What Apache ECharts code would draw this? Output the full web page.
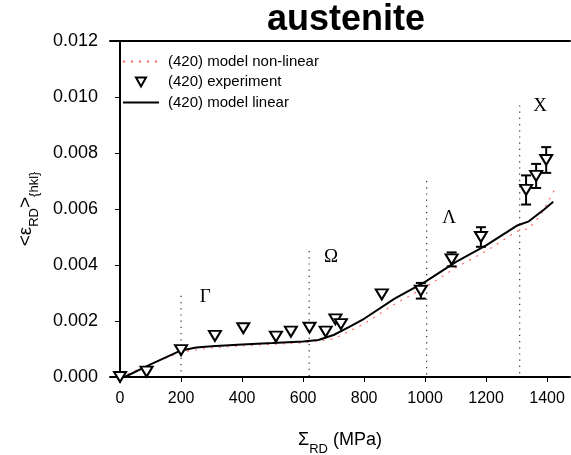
<!DOCTYPE html>
<html>
<head>
<meta charset="utf-8">
<script src="https://cdn.jsdelivr.net/npm/echarts@6/dist/echarts.min.js"></script>
<style>
  html, body { margin: 0; padding: 0; background: #fff; }
  #chart { width: 571px; height: 455px; }
</style>
</head>
<body>
<div id="chart"></div>
<script>
// Axis ticks
const stressTicks = [0, 200, 400, 600, 800, 1000, 1200, 1400];

// (420) experiment: applied stress (MPa), lattice strain, error half-width
const expStress = [0, 87, 200, 311, 404, 511, 560, 621, 674, 706, 724, 858, 986, 1087, 1183, 1331, 1364, 1397];
const expStrain = [0, 0.00019, 0.00096, 0.00147, 0.00174, 0.00144, 0.00162, 0.00176, 0.00162, 0.00206, 0.00189, 0.00295, 0.00308, 0.00420, 0.00500, 0.00668, 0.00718, 0.00775];
const expError  = [0, 0, 0, 0, 0, 0, 0, 0, 0, 0, 0, 0, 0.00028, 0.00025, 0.00035, 0.00052, 0.00043, 0.00046];

// (420) model linear
const linStress = [15, 100, 200, 250, 300, 400, 500, 600, 650, 700, 750, 800, 900, 1000, 1100, 1200, 1300, 1340, 1390, 1420];
const linStrain = [0, 0.00045, 0.00095, 0.00105, 0.00110, 0.00116, 0.00121, 0.00127, 0.00132, 0.00150, 0.00178, 0.00208, 0.00280, 0.00340, 0.00410, 0.00470, 0.00540, 0.00556, 0.00598, 0.00626];

// (420) model non-linear
const nlStress = [0, 100, 200, 300, 400, 500, 600, 700, 800, 900, 1000, 1100, 1200, 1300, 1340, 1380, 1410, 1430];
const nlStrain = [0, 0.00045, 0.00090, 0.00104, 0.00111, 0.00117, 0.00122, 0.00136, 0.00190, 0.00260, 0.00320, 0.00390, 0.00450, 0.00520, 0.00530, 0.00580, 0.00640, 0.00680];

// Deformation stages: dotted marker lines and their labels
const phaseNames = ['Γ', 'Ω', 'Λ', 'X'];
const phaseStress = [200, 620, 1005, 1310];
const phaseTop = [0.0029, 0.0045, 0.0070, 0.0097];
const phaseLabelStress = [279, 692, 1079, 1377];
const phaseLabelStrain = [0.00286, 0.00429, 0.00568, 0.00968];

const zip = (a, b) => a.map((v, i) => [v, b[i]]);

const chart = echarts.init(document.getElementById('chart'), null, { renderer: 'canvas' });

const sansFont = 'Liberation Sans, Arial, sans-serif';
const serifFont = 'Liberation Serif, Times New Roman, serif';

// inverted open triangle used for the measured points
const downTriangle = 'path://M0,0 L10,0 L5,9 Z';
// same glyph padded inside a 36x14 box for the legend row
const downTriangleLegend = 'path://M0,0 M13,2.5 L23,2.5 L18,11.5 Z M36,14';

// main glyphs sit at the top of a tall line box, subscripts are centred lower
const richLabel = (mainSize, subSize) => ({
  m: { fontFamily: sansFont, fontSize: mainSize, color: '#000', lineHeight: 22, verticalAlign: 'top' },
  s: { fontFamily: sansFont, fontSize: subSize, color: '#000', lineHeight: 36, verticalAlign: 'middle' }
});

chart.setOption({
  animation: false,
  backgroundColor: '#fff',
  title: {
    text: 'austenite',
    left: 262,
    top: -3,
    textStyle: { fontFamily: sansFont, fontWeight: 'bold', fontSize: 36, color: '#000' }
  },
  legend: {
    orient: 'vertical',
    left: 122,
    top: 54,
    padding: 0,
    itemGap: 5,
    itemWidth: 36,
    itemHeight: 14,
    textStyle: { fontFamily: sansFont, fontSize: 15, color: '#000', padding: [0, 0, 0, 4] },
    data: [
      { name: '(420) model non-linear', itemStyle: { opacity: 0 } },
      { name: '(420) experiment', icon: downTriangleLegend },
      { name: '(420) model linear', itemStyle: { opacity: 0 } }
    ]
  },
  grid: { left: 110, right: 1, top: 41, bottom: 78, outerBoundsMode: 'none', containLabel: false },
  xAxis: [{
    type: 'value',
    min: -33,
    max: 1475,
    position: 'bottom',
    name: '{m|Σ}{s|RD}{m| (MPa)}',
    nameLocation: 'middle',
    nameGap: 54,
    nameMoveOverlap: false,
    nameTextStyle: {
      fontFamily: sansFont, fontSize: 13, color: '#000', lineHeight: 36,
      rich: richLabel(18, 13)
    },
    axisLine: { lineStyle: { color: '#000', width: 2 } },
    axisTick: { length: 5, lineStyle: { color: '#000', width: 1 }, customValues: stressTicks },
    axisLabel: { customValues: stressTicks, margin: 14, fontFamily: sansFont, fontSize: 16, color: '#000', formatter: v => String(v) },
    splitLine: { show: false }
  }, {
    type: 'value',
    min: -33,
    max: 1475,
    position: 'top',
    axisLine: { show: true, lineStyle: { color: '#000', width: 2 } },
    axisTick: { show: false },
    axisLabel: { show: false },
    splitLine: { show: false }
  }],
  yAxis: {
    type: 'value',
    min: 0,
    max: 0.012,
    interval: 0.002,
    name: '{m|<ε}{s|RD}{m|>}{hkl}',
    nameLocation: 'middle',
    nameGap: 58,
    nameMoveOverlap: false,
    nameTextStyle: {
      fontFamily: sansFont, fontSize: 13, color: '#000', lineHeight: 36,
      rich: richLabel(19, 13)
    },
    axisLine: { show: true, lineStyle: { color: '#000', width: 2 } },
    axisTick: { show: true, length: 5, lineStyle: { color: '#000', width: 1 } },
    axisLabel: { margin: 12, fontFamily: sansFont, fontSize: 18, color: '#000', formatter: v => v.toFixed(3) },
    splitLine: { show: false }
  },
  series: [
    {
      name: '(420) model non-linear',
      type: 'line',
      data: zip(nlStress, nlStrain),
      symbol: 'none',
      z: 1,
      lineStyle: { color: '#ff6a6a', width: 1.2, type: [2, 6] },
      itemStyle: { color: '#ff6a6a' }
    },
    {
      name: '(420) model linear',
      type: 'line',
      data: zip(linStress, linStrain),
      symbol: 'none',
      z: 2,
      lineStyle: { color: '#000', width: 2 },
      itemStyle: { color: '#000' }
    },
    {
      name: 'stages',
      type: 'custom',
      z: 1,
      silent: true,
      data: phaseStress.map((x, i) => [x, phaseTop[i], phaseLabelStress[i], phaseLabelStrain[i], i]),
      renderItem(params, api) {
        const x = api.value(0);
        const top = api.coord([x, api.value(1)]);
        const bot = api.coord([x, 0]);
        const lab = api.coord([api.value(2), api.value(3)]);
        return {
          type: 'group',
          children: [
            {
              type: 'line',
              shape: { x1: top[0], y1: top[1], x2: bot[0], y2: bot[1] },
              style: { stroke: '#333', lineWidth: 1.2, lineDash: [1.2, 5] }
            },
            {
              type: 'text',
              x: lab[0], y: lab[1],
              style: {
                text: phaseNames[api.value(4)],
                fontFamily: serifFont, fontSize: 19, fill: '#000',
                align: 'center', verticalAlign: 'middle'
              }
            }
          ]
        };
      }
    },
    {
      name: 'error',
      type: 'custom',
      z: 3,
      silent: true,
      data: expStress.map((x, i) => [x, expStrain[i], expError[i]]),
      renderItem(params, api) {
        const e = api.value(2);
        if (!e) return;
        const x = api.value(0), y = api.value(1);
        const top = api.coord([x, y + e]);
        const bot = api.coord([x, y - e]);
        const w = 5;
        const st = { stroke: '#000', lineWidth: 2 };
        return {
          type: 'group',
          children: [
            { type: 'line', shape: { x1: top[0], y1: top[1], x2: bot[0], y2: bot[1] }, style: st },
            { type: 'line', shape: { x1: top[0] - w, y1: top[1], x2: top[0] + w, y2: top[1] }, style: st },
            { type: 'line', shape: { x1: bot[0] - w, y1: bot[1], x2: bot[0] + w, y2: bot[1] }, style: st }
          ]
        };
      }
    },
    {
      name: '(420) experiment',
      type: 'scatter',
      data: zip(expStress, expStrain),
      symbol: downTriangle,
      symbolSize: [12, 10],
      z: 4,
      itemStyle: { color: '#fff', borderColor: '#000', borderWidth: 2, opacity: 1 }
    }
  ]
});
</script>
</body>
</html>
